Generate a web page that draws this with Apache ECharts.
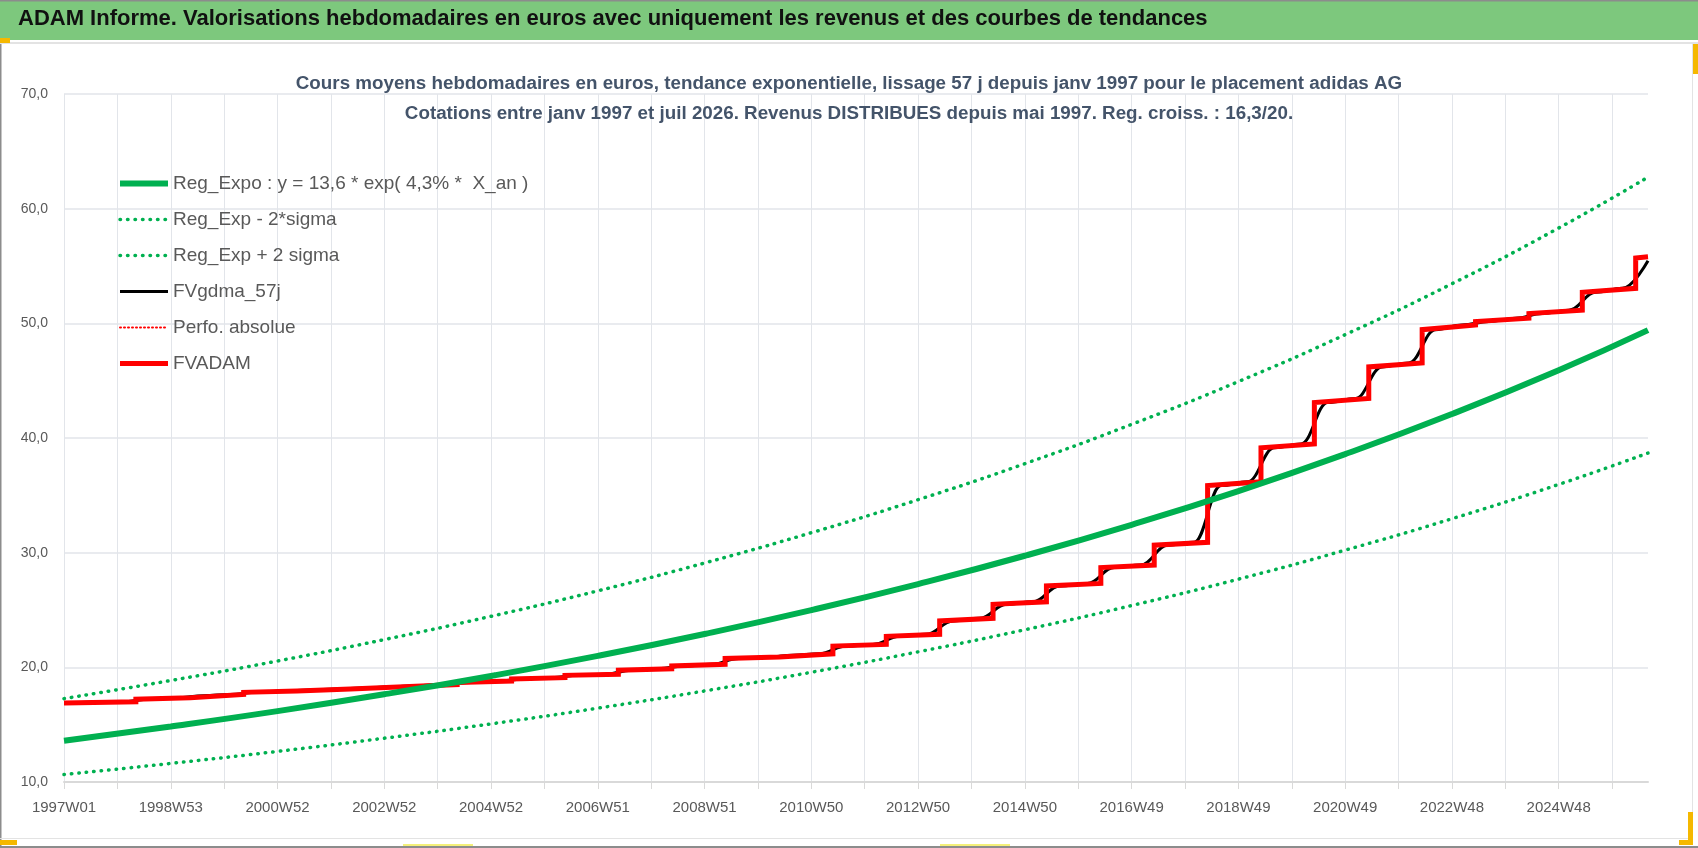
<!DOCTYPE html>
<html>
<head>
<meta charset="utf-8">
<title>ADAM Informe - adidas AG</title>
<script src="https://cdn.jsdelivr.net/npm/echarts@6/dist/echarts.min.js"></script>
<style>
  html, body { margin: 0; padding: 0; background: #fff; }
  #chart { width: 1698px; height: 848px; }
</style>
</head>
<body>
<div id="chart"></div>
<script>
// semaines ISO, du lundi 30/12/1996 (1997W01) a juillet 2026
var nbSemaines = 1544;
var semaines = [];
for (var i = 0; i < nbSemaines; i++) {
  var lundi = Date.UTC(1996, 11, 30 + 7 * i);
  var jeudi = new Date(lundi + 3 * 86400000);
  var an = jeudi.getUTCFullYear();
  var jour = Math.floor((jeudi.getTime() - Date.UTC(an, 0, 1)) / 86400000);
  var num = Math.floor(jour / 7) + 1;
  semaines.push(an + 'W' + (num < 10 ? '0' : '') + num);
}

// courbes de tendance lues tous les deux ans
var regSemaines = ['1997W01', '1998W53', '2000W52', '2002W52', '2004W52', '2006W51', '2008W51', '2010W50',
  '2012W50', '2014W50', '2016W49', '2018W49', '2020W49', '2022W48', '2024W48', '2026W31'];
var regExpo = [13.60, 14.84, 16.18, 17.65, 19.25, 21.00, 22.91, 24.99, 27.26, 29.73, 32.43, 35.37, 38.59, 42.09, 45.91, 49.41];
var regMoins2Sigma = [10.65, 11.62, 12.67, 13.82, 15.07, 16.44, 17.94, 19.57, 21.35, 23.28, 25.39, 27.69, 30.22, 32.96, 35.95, 38.69];
var regPlus2Sigma = [17.27, 18.85, 20.55, 22.42, 24.45, 26.67, 29.10, 31.74, 34.62, 37.76, 41.19, 44.92, 49.01, 53.45, 58.31, 62.75];

// FVADAM : un palier par an, revenus verses en semaine 19
var paliersSemaines = ['1997W01', '1998W19', '1999W19', '2000W19', '2001W19', '2002W19', '2003W19', '2004W19',
  '2005W19', '2006W19', '2007W19', '2008W19', '2009W19', '2010W19', '2011W19', '2012W19', '2013W19', '2014W19',
  '2015W19', '2016W19', '2017W19', '2018W19', '2019W19', '2020W19', '2021W19', '2022W19', '2023W19', '2024W19',
  '2025W19', '2026W19'];
var fvadamDebut = [16.90, 17.22, 17.52, 17.82, 18.02, 18.20, 18.40, 18.68, 18.98, 19.30, 19.75, 20.12, 20.78, 21.05,
  21.85, 22.70, 24.05, 25.50, 27.10, 28.70, 30.65, 35.85, 39.15, 43.10, 46.20, 49.45, 50.15, 50.85, 52.70, 55.70];
var fvadamFin = [17.00, 17.35, 17.64, 17.93, 18.12, 18.30, 18.50, 18.80, 19.10, 19.40, 19.88, 20.26, 20.90, 21.18,
  22.00, 22.88, 24.28, 25.72, 27.32, 28.92, 30.90, 36.18, 39.48, 43.45, 46.55, 49.85, 50.45, 51.15, 53.05, 55.80];
var fvgdmaFinale = 55.45;

var derniere = semaines.length - 1;

function serieCourbe(valeurs) {
  return regSemaines.map(function (s, k) { return [s, valeurs[k]]; });
}

// paliers rouges (deux points par changement de niveau)
var fvadam = [];
paliersSemaines.forEach(function (s, k) {
  fvadam.push([s, fvadamDebut[k]]);
  var fin = k + 1 < paliersSemaines.length ? paliersSemaines[k + 1] : semaines[derniere];
  fvadam.push([fin, fvadamFin[k]]);
});

// moyenne lissee 57 j : raccords en S autour de chaque palier
var demiLissage = 13;
var fvgdma = [[semaines[0], fvadamDebut[0]]];
for (var k = 1; k < paliersSemaines.length; k++) {
  var idx = semaines.indexOf(paliersSemaines[k]);
  fvgdma.push([semaines[idx - demiLissage], fvadamFin[k - 1]]);
  var apres = Math.min(idx + demiLissage, derniere);
  fvgdma.push([semaines[apres], apres === derniere ? fvgdmaFinale : fvadamDebut[k]]);
}
if (fvgdma[fvgdma.length - 1][0] !== semaines[derniere]) {
  fvgdma.push([semaines[derniere], fvgdmaFinale]);
}

var vert = '#00B050';
var gris = '#595959';
var grille = '#E2E5EA';
var police = 'Liberation Sans';

var dom = document.getElementById('chart');
var myChart = echarts.init(dom, null, { renderer: 'canvas' });

var titreStyle = { fontFamily: police, fontSize: 18.8, fontWeight: 'bold', color: '#44546A' };

var option = {
  animation: false,
  backgroundColor: '#fff',
  title: [
    {
      text: 'Cours moyens hebdomadaires en euros, tendance exponentielle, lissage 57 j depuis janv 1997 pour le placement adidas AG',
      left: 'center',
      top: 69,
      textStyle: titreStyle
    },
    {
      text: 'Cotations entre janv 1997 et juil 2026. Revenus DISTRIBUES depuis mai 1997. Reg. croiss. : 16,3/20.',
      left: 'center',
      top: 99,
      textStyle: titreStyle
    }
  ],
  graphic: [
    { type: 'rect', shape: { x: 0, y: 0, width: 1698, height: 40 }, style: { fill: '#7DC87D' } },
    { type: 'rect', shape: { x: 0, y: 0, width: 1698, height: 1.5 }, style: { fill: '#8C8C8C' } },
    { type: 'text', left: 18, top: 8, style: { text: 'ADAM Informe. Valorisations hebdomadaires en euros avec uniquement les revenus et des courbes de tendances', font: 'bold 22px "Liberation Sans"', fill: '#111' } },
    { type: 'rect', shape: { x: 0, y: 42, width: 1698, height: 2 }, style: { fill: '#E3E3E3' } },
    { type: 'rect', shape: { x: 0, y: 44, width: 1.5, height: 804 }, style: { fill: '#8C8C8C' } },
    { type: 'rect', shape: { x: 0, y: 846, width: 1698, height: 2 }, style: { fill: '#8C8C8C' } },
    { type: 'rect', shape: { x: 0, y: 838, width: 1693, height: 1 }, style: { fill: '#E3E3E3' } },
    { type: 'rect', shape: { x: 1692, y: 44, width: 1, height: 796 }, style: { fill: '#E3E3E3' } },
    { type: 'rect', shape: { x: 0, y: 38, width: 10, height: 5 }, style: { fill: '#F5B800' } },
    { type: 'rect', shape: { x: 0, y: 840, width: 17, height: 5 }, style: { fill: '#F5B800' } },
    { type: 'rect', shape: { x: 1679, y: 840, width: 14, height: 5 }, style: { fill: '#F5B800' } },
    { type: 'rect', shape: { x: 1688, y: 812, width: 5, height: 30 }, style: { fill: '#F5B800' } },
    { type: 'rect', shape: { x: 1693, y: 44, width: 5, height: 30 }, style: { fill: '#F5B800' } },
    { type: 'rect', shape: { x: 403, y: 844, width: 70, height: 2 }, style: { fill: '#F4F07A' } },
    { type: 'rect', shape: { x: 940, y: 844, width: 70, height: 2 }, style: { fill: '#F4F07A' } }
  ],
  legend: {
    orient: 'vertical',
    left: 112,
    top: 169,
    itemWidth: 48,
    itemHeight: 14,
    itemGap: 17,
    itemStyle: { opacity: 0 },
    lineStyle: { width: 'inherit' },
    textStyle: { fontFamily: police, fontSize: 19, color: gris },
    data: ['Reg_Expo : y = 13,6 * exp( 4,3% *  X_an )', 'Reg_Exp - 2*sigma', 'Reg_Exp + 2 sigma',
      'FVgdma_57j', 'Perfo. absolue', 'FVADAM']
  },
  grid: { left: 64, right: 50, top: 94, bottom: 66 },
  xAxis: {
    type: 'category',
    data: semaines,
    boundaryGap: false,
    axisLine: { lineStyle: { color: '#D9D9D9', width: 2 } },
    axisTick: { interval: 51, length: 7, lineStyle: { color: '#D9D9D9' } },
    splitLine: { show: true, interval: 51, lineStyle: { color: grille, width: 1 } },
    axisLabel: { interval: 103, margin: 18, fontFamily: police, fontSize: 15, color: gris }
  },
  yAxis: {
    type: 'value',
    min: 10,
    max: 70,
    interval: 10,
    axisLine: { show: false },
    axisTick: { show: false },
    splitLine: { lineStyle: { color: grille, width: 1.5 } },
    axisLabel: {
      margin: 16,
      fontFamily: police,
      fontSize: 14,
      color: gris,
      formatter: function (v) { return v.toFixed(1).replace('.', ','); }
    }
  },
  series: [
    {
      name: 'Reg_Exp - 2*sigma',
      type: 'line',
      data: serieCourbe(regMoins2Sigma),
      smooth: true,
      symbol: 'none',
      lineStyle: { color: vert, width: 3.5, type: [0.5, 7], cap: 'round' },
      itemStyle: { color: vert },
      z: 2
    },
    {
      name: 'Reg_Exp + 2 sigma',
      type: 'line',
      data: serieCourbe(regPlus2Sigma),
      smooth: true,
      symbol: 'none',
      lineStyle: { color: vert, width: 3.5, type: [0.5, 7], cap: 'round' },
      itemStyle: { color: vert },
      z: 2
    },
    {
      name: 'FVgdma_57j',
      type: 'line',
      data: fvgdma,
      smooth: 0.4,
      smoothMonotone: 'x',
      symbol: 'none',
      lineStyle: { color: '#000', width: 3 },
      itemStyle: { color: '#000' },
      z: 3
    },
    {
      name: 'Perfo. absolue',
      type: 'line',
      data: [],
      symbol: 'none',
      lineStyle: { color: '#FF0000', width: 2, type: [1, 3], cap: 'round' },
      itemStyle: { color: '#FF0000' }
    },
    {
      name: 'FVADAM',
      type: 'line',
      data: fvadam,
      symbol: 'none',
      lineStyle: { color: '#FF0000', width: 5, join: 'miter' },
      itemStyle: { color: '#FF0000' },
      z: 4
    },
    {
      name: 'Reg_Expo : y = 13,6 * exp( 4,3% *  X_an )',
      type: 'line',
      data: serieCourbe(regExpo),
      smooth: true,
      symbol: 'none',
      lineStyle: { color: vert, width: 6 },
      itemStyle: { color: vert },
      z: 5
    }
  ]
};

myChart.setOption(option);
window.addEventListener('resize', myChart.resize);
</script>
</body>
</html>
